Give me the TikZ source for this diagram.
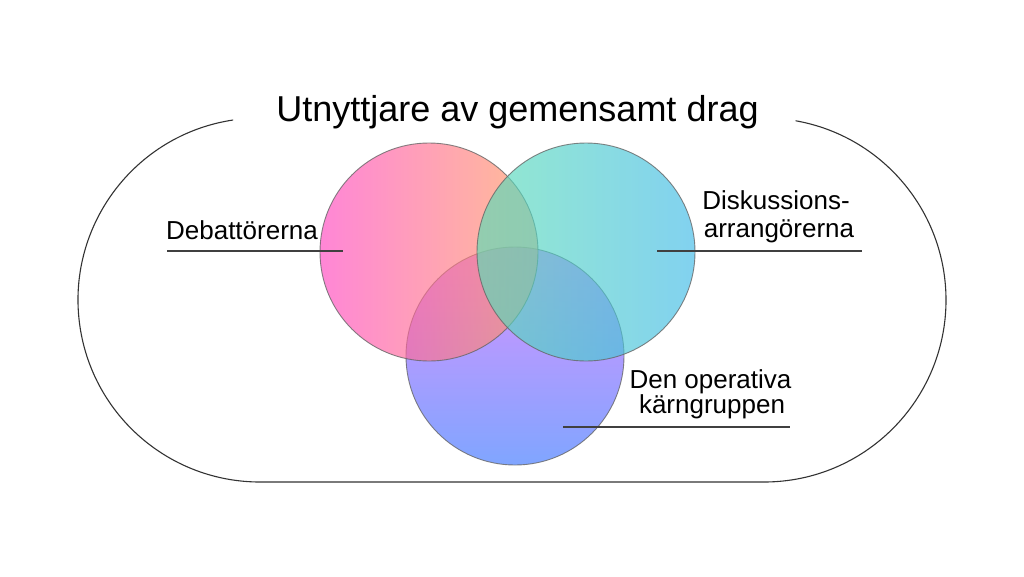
\documentclass[tikz,border=0pt]{standalone}
\usepackage{fontspec}
\setmainfont{Liberation Sans}
\definecolor{cL1}{RGB}{255,70,193}
\definecolor{cL2}{RGB}{255,155,93}
\definecolor{cR1}{RGB}{90,222,180}
\definecolor{cR2}{RGB}{63,186,232}
\definecolor{cB1}{RGB}{200,88,255}
\definecolor{cBm}{RGB}{160,100,255}
\definecolor{cB2}{RGB}{60,118,255}
\begin{document}
\begin{tikzpicture}[x=1pt,y=-1pt,
  venn/.style={circle, minimum size=218pt, inner sep=0pt, fill opacity=0.65,
    draw=black!60, draw opacity=0.8, line width=0.9pt},
  leader/.style={draw=black!75, line width=1.1pt},
  lbl/.style={inner sep=0pt, anchor=base, font=\fontsize{26}{29}\selectfont},
  outline/.style={draw=black!80, line width=1.1pt}]
\useasboundingbox (0,0) rectangle (1024,576);
\fill[white] (0,0) rectangle (1024,576);
% outer frame with gap for the title
\draw[outline] (260,300) ++(261.5:182) arc[start angle=261.5, end angle=90, radius=182]
  -- (764,482) arc[start angle=90, end angle=-80, radius=182];
% circles
\node[venn, shade, top color=cB1, middle color=cBm, bottom color=cB2] (core) at (515,356) {};
\node[venn, shade, left color=cL1, right color=cL2] (deb) at (429,252) {};
\node[venn, shade, left color=cR1, right color=cR2] (disk) at (586,252) {};
% title
\node[inner sep=0pt, anchor=base, font=\fontsize{36}{43}\selectfont] (title) at (517.5,121) {Utnyttjare av gemensamt drag};
% labels
\node[lbl] (debtext) at (242,239) {Debattörerna};
\node[lbl] (disktextA) at (776,209) {Diskussions-};
\node[lbl] (disktextB) at (779,237.5) {arrangörerna};
\node[lbl] (coretextA) at (710.5,388) {Den operativa};
\node[lbl] (coretextB) at (712,413.5) {kärngruppen};
% leader lines
\coordinate (debA) at (167,251);
\coordinate (debB) at (343,251);
\coordinate (diskA) at (657,251);
\coordinate (diskB) at (862,251);
\coordinate (coreA) at (563,427);
\coordinate (coreB) at (790,427);
\draw[leader] (debA) -- (debB);
\draw[leader] (diskA) -- (diskB);
\draw[leader] (coreA) -- (coreB);
\end{tikzpicture}
\end{document}
